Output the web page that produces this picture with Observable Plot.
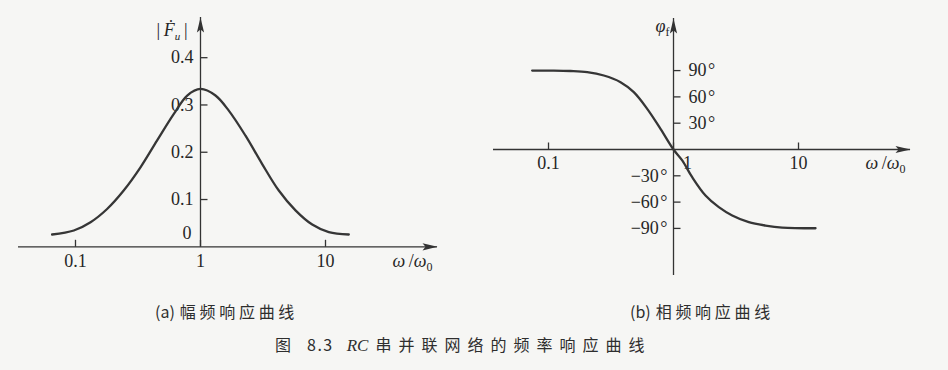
<!DOCTYPE html>
<html>
<head>
<meta charset="utf-8">
<script src="https://cdn.jsdelivr.net/npm/d3@7"></script>
<script src="https://cdn.jsdelivr.net/npm/@observablehq/plot@0.6"></script>
<style>
  html, body { margin: 0; padding: 0; background: #f6f6f4; }
  body { width: 948px; height: 370px; position: relative; overflow: hidden; font-family: "Liberation Serif", serif; color: #262626; }
  #charts { position: absolute; left: 0; top: 0; display: flex; }
  #charts svg { display: block; }
  .cap, .title { position: absolute; font-family: "Noto Sans CJK SC", sans-serif; font-size: 16px; line-height: 20px; white-space: pre; color: #2e2e2e; }
  .cap .lat { letter-spacing: 0; margin-right: 5px; }
  .cap .cjk { letter-spacing: 3.7px; }
  .title .num { letter-spacing: 1.5px; margin-left: 16px; }
  .title i { font-family: "Liberation Serif", serif; font-size: 17px; margin-left: 13px; }
  .title .cjk { letter-spacing: 7px; margin-left: 7px; }
</style>
</head>
<body>
<div id="charts"></div>
<div class="cap" style="left:155px; top:301px;"><span class="lat">(a)</span><span class="cjk">幅频响应曲线</span></div>
<div class="cap" style="left:630px; top:301px;"><span class="lat">(b)</span><span class="cjk">相频响应曲线</span></div>
<div class="title" style="left:275px; top:334px;"><span>图</span><span class="num">8.3</span><i>RC</i><span class="cjk">串并联网络的频率响应曲线</span></div>
<script>
// ---------- data ----------
// (a) amplitude response |F_u| vs ω/ω0
const ampOmega = [0.065, 0.097, 0.132, 0.179, 0.243, 0.331, 0.450, 0.612, 0.783, 1, 1.318, 1.684, 2.291, 3.116, 4.23, 5.754, 7.83, 10.63, 15.36];
const ampValue = [0.026, 0.0345, 0.052, 0.080, 0.119, 0.168, 0.225, 0.281, 0.320, 0.334, 0.320, 0.288, 0.235, 0.175, 0.119, 0.077, 0.047, 0.031, 0.026];
const ampYTicks = [0.1, 0.2, 0.3, 0.4];
const ampYLabels = ["0.1", "0.2", "0.3", "0.4"];
const ampOriginLabel = ["0"];

// (b) phase response φ_f (degrees) vs ω/ω0
const phaseOmega = [0.074, 0.110, 0.150, 0.204, 0.277, 0.377, 0.481, 0.616, 0.787, 1, 1.174, 1.411, 1.803, 2.304, 2.949, 4.003, 5.445, 7.405, 13.68];
const phaseDeg = [90, 90, 89.5, 88.2, 84.4, 76.8, 65.4, 46.4, 23.6, 0, -12.5, -31.6, -52.5, -65.8, -75.3, -82.9, -86.7, -89, -89.8];
const phasePosTicks = [90, 60, 30];
const phasePosLabels = ["90\u200a°", "60\u200a°", "30\u200a°"];
const phaseNegTicks = [-30, -60, -90];
const phaseNegLabels = ["\u221230\u200a°", "\u221260\u200a°", "\u221290\u200a°"];

// shared x ticks (ω/ω0)
const xTicks = [0.1, 1, 10];
const xTickLabels = ["0.1", "1", "10"];

// ---------- helpers ----------
const INK = "#333";
const amp = ampOmega.map((w, i) => ({w, v: ampValue[i]}));
const phase = phaseOmega.map((w, i) => ({w, v: phaseDeg[i]}));

const arrowRight = {draw(c) { c.moveTo(0, 0); c.lineTo(-15, -3.6); c.lineTo(-12, 0); c.lineTo(-15, 3.6); c.closePath(); }};
const arrowUp = {draw(c) { c.moveTo(0, 0); c.lineTo(-3.6, 15); c.lineTo(0, 12); c.lineTo(3.6, 15); c.closePath(); }};
const tickRight = {draw(c) { c.moveTo(0, 0); c.lineTo(7, 0); }};
const tickUp = {draw(c) { c.moveTo(0, 0); c.lineTo(0, -7); }};

const baseStyle = {background: "transparent", fontFamily: "'Liberation Serif', serif", color: "#262626", overflow: "visible"};

function xAxisMarks(xDomain, dxFor) {
  return [
    Plot.ruleY([0], {stroke: INK, strokeWidth: 1.3}),
    Plot.dot([xDomain[1]], {x: d => d, y: () => 0, symbol: arrowRight, fill: INK, stroke: "none"}),
    Plot.dot(xTicks, {x: d => d, y: () => 0, symbol: tickUp, stroke: INK, strokeWidth: 1.3, fill: "none"}),
    ...xTicks.map((t, i) => Plot.text([t], {x: d => d, y: () => 0, text: () => xTickLabels[i], dy: 14, dx: dxFor(t), fontSize: 18})),
    Plot.text(["@omega"], {x: () => xDomain[1], y: () => 0, text: d => d, dx: -25, dy: 14, fontSize: 18})
  ];
}

// ---------- (a) amplitude ----------
const ampX = [0.035, 78.7];
const ampY = [0, 0.485];
const plotA = Plot.plot({
  width: 474, height: 290,
  marginLeft: 18, marginRight: 37, marginTop: 17, marginBottom: 43.7,
  x: {type: "log", domain: ampX, axis: null},
  y: {domain: ampY, axis: null},
  style: baseStyle,
  marks: [
    ...xAxisMarks(ampX, () => 0),
    Plot.ruleX([1], {y1: 0, y2: ampY[1], stroke: INK, strokeWidth: 1.3}),
    Plot.dot([ampY[1]], {x: () => 1, y: d => d, symbol: arrowUp, fill: INK, stroke: "none"}),
    Plot.dot(ampYTicks, {x: () => 1, y: d => d, symbol: tickRight, stroke: INK, strokeWidth: 1.3, fill: "none"}),
    Plot.text(ampYTicks, {x: () => 1, y: d => d, text: (d, i) => ampYLabels[i], textAnchor: "end", dx: -7, fontSize: 18}),
    Plot.text(ampOriginLabel, {x: () => 1, y: () => 0, text: d => d, textAnchor: "end", dx: -9, dy: -14, fontSize: 18}),
    Plot.text(["@F"], {x: () => 1, y: () => ampY[1], text: d => d, textAnchor: "end", dx: -13, dy: 13, fontSize: 18}),
    Plot.line(amp, {x: "w", y: "v", curve: "catmull-rom", stroke: "#363636", strokeWidth: 2.3})
  ]
});

// ---------- (b) phase ----------
const phX = [0.0363, 78.7];
const phY = [-143.7, 149.4];
const plotB = Plot.plot({
  width: 474, height: 290,
  marginLeft: 19, marginRight: 38, marginTop: 18, marginBottom: 15,
  x: {type: "log", domain: phX, axis: null},
  y: {domain: phY, axis: null},
  style: baseStyle,
  marks: [
    ...xAxisMarks(phX, t => (t === 1 ? 14 : 0)),
    Plot.ruleX([1], {stroke: INK, strokeWidth: 1.3}),
    Plot.dot([phY[1]], {x: () => 1, y: d => d, symbol: arrowUp, fill: INK, stroke: "none"}),
    Plot.dot([...phasePosTicks, ...phaseNegTicks], {x: () => 1, y: d => d, symbol: tickRight, stroke: INK, strokeWidth: 1.3, fill: "none"}),
    Plot.text(phasePosTicks, {x: () => 1, y: d => d, text: (d, i) => phasePosLabels[i], textAnchor: "start", dx: 15, fontSize: 18}),
    Plot.text(phaseNegTicks, {x: () => 1, y: d => d, text: (d, i) => phaseNegLabels[i], textAnchor: "end", dx: -6, fontSize: 18}),
    Plot.text(["@phi"], {x: () => 1, y: () => phY[1], text: d => d, textAnchor: "end", dx: -4, dy: 8, fontSize: 18}),
    Plot.line(phase, {x: "w", y: "v", curve: "catmull-rom", stroke: "#363636", strokeWidth: 2.3})
  ]
});

// ---------- rich axis labels (italics / subscripts) ----------
function rich(svg) {
  d3.select(svg).selectAll("text").each(function () {
    const t = this.textContent;
    const s = d3.select(this);
    const add = (txt, o = {}) => {
      const ts = s.append("tspan").text(txt);
      for (const k in o) ts.attr(k, o[k]);
      return ts;
    };
    if (t === "@omega") {
      s.text(null);
      add("ω", {"font-style": "italic"});
      add("\u2009/", {});
      add("ω", {"font-style": "italic"});
      add("0", {"font-size": 12, dy: 4});
    } else if (t === "@F") {
      s.text(null);
      add("|\u2009", {});
      add("Ḟ", {"font-style": "italic"});
      add("u", {"font-style": "italic", "font-size": 11, dy: 4});
      add("\u2009|", {dy: -4});
    } else if (t === "@phi") {
      s.text(null);
      add("φ", {"font-style": "italic"});
      add("f", {"font-size": 12, dy: 4});
    }
  });
}
rich(plotA);
rich(plotB);

document.getElementById("charts").append(plotA, plotB);
</script>
</body>
</html>
